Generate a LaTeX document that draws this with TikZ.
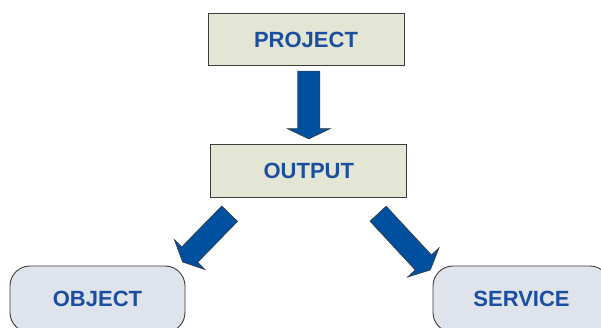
\documentclass[tikz,border=0pt]{standalone}
\usepackage{fontspec}
\setmainfont{Liberation Sans}
\usepackage{xcolor}
\usetikzlibrary{shapes.arrows, calc, positioning}

\definecolor{textblue}{RGB}{28,78,160}
\definecolor{arrowblue}{RGB}{0,80,160}
\definecolor{topfill}{RGB}{227,229,213}
\definecolor{bottomfill}{RGB}{223,227,236}
\definecolor{edgegray}{RGB}{60,60,60}

\tikzset{
    label text/.style = {font = \fontsize{22}{24}\selectfont\bfseries, text = textblue},
    square box/.style = {label text, draw = edgegray, fill = topfill, line width = 0.9pt,
                         minimum width = 196pt, minimum height = 52.5pt, inner sep = 0pt},
    round box/.style  = {label text, draw = edgegray, fill = bottomfill, line width = 0.9pt,
                         rounded corners = 20pt, minimum width = 175pt, minimum height = 66.4pt, inner sep = 0pt},
    fat arrow/.style  = {to path = {
        let \p1 = ($(\tikztotarget) - (\tikztostart)$),
            \n1 = {veclen(\x1, \y1)},
            \n2 = {atan2(\y1, \x1)} in
        (\tikztostart) node[single arrow, draw = edgegray, fill = arrowblue, line width = 0.6pt,
            inner xsep = 0pt, inner ysep = 10.75pt, outer sep = 0pt, minimum height = \n1,
            single arrow head extend = 10.5pt, single arrow tip angle = 129,
            rotate = \n2, anchor = tail] {}
    }}
}

\begin{document}
\begin{tikzpicture}[x = 1pt, y = -1pt]
    \useasboundingbox (0, 0) rectangle (601, 328);

    % draw boxes
    \node[square box] (project) at (306, 39.5)  {PROJECT};
    \node[square box] (output)  at (308.8, 171) {OUTPUT};

    \node[round box] (object)  at (97.5, 299.2)                      {OBJECT};
    \node[round box, minimum width = 177pt] (service) at (521.5, 299.2) {SERVICE};


    % arrow ends
    \coordinate (down tail)  at ($(output.north |- project.south) + (0, 5)$);
    \coordinate (down tip)   at ($(output.north) + (0, -5.4)$);

    \coordinate (left tail)  at ($(output.south west) + (19.3, 16)$);
    \coordinate (left tip)   at ($(object.north east) + (-3, -3.5)$);

    \coordinate (right tail) at ($(output.south east) + (-29.2, 16)$);
    \coordinate (right tip)  at ($(service.north west) + (-2.2, 4.5)$);


    % draw arrows
    \draw[fat arrow] (down tail)  to (down tip);
    \draw[fat arrow] (left tail)  to (left tip);
    \draw[fat arrow] (right tail) to (right tip);

\end{tikzpicture}
\end{document}
